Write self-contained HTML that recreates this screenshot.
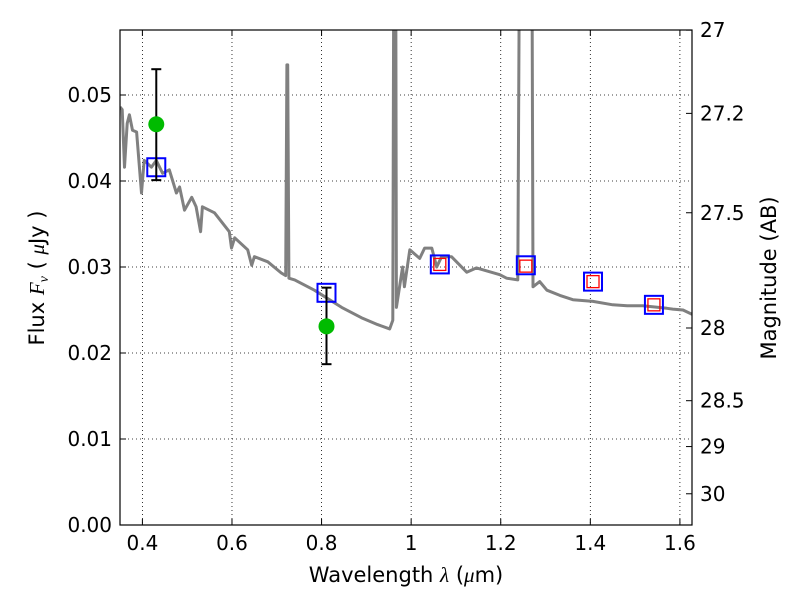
<!DOCTYPE html>
<html><head><meta charset="utf-8"><style>
body{margin:0;background:#fff;width:800px;height:600px;overflow:hidden}
text{font-family:"DejaVu Sans","Liberation Sans",sans-serif;fill:#000}
</style></head><body>
<svg id="chart" width="800" height="600" xmlns="http://www.w3.org/2000/svg"></svg>
<script>
const specWave=[0.35,0.355,0.36,0.366,0.371,0.378,0.387,0.398,0.404,0.42,0.431,0.445,0.46,0.476,0.483,0.494,0.51,0.52,0.53,0.534,0.561,0.594,0.599,0.606,0.635,0.644,0.65,0.68,0.71,0.72,0.7225,0.7245,0.727,0.74,0.784,0.845,0.889,0.925,0.952,0.959,0.962,0.965,0.967,0.981,0.985,0.997,1.019,1.03,1.046,1.057,1.068,1.09,1.124,1.146,1.198,1.213,1.238,1.243,1.246,1.269,1.272,1.287,1.303,1.332,1.361,1.406,1.45,1.482,1.517,1.571,1.584,1.607,1.627];
const specFlux=[0.0486,0.0483,0.0416,0.0467,0.0477,0.0459,0.0457,0.0386,0.0424,0.0416,0.0424,0.0409,0.0413,0.0386,0.0393,0.0366,0.0381,0.037,0.0341,0.037,0.0363,0.0341,0.0322,0.0334,0.032,0.0302,0.0312,0.0306,0.0293,0.029,0.0535,0.0535,0.0287,0.0285,0.0273,0.0253,0.0241,0.0233,0.0228,0.0238,0.08,0.08,0.0253,0.030,0.0277,0.032,0.031,0.0322,0.0322,0.030,0.0312,0.0312,0.0294,0.0299,0.0291,0.0287,0.0285,0.08,0.08,0.08,0.0277,0.0283,0.0273,0.0267,0.0262,0.026,0.0256,0.0255,0.0255,0.0252,0.0251,0.025,0.0245];
const obsWave=[0.431,0.811];
const obsFlux=[0.0466,0.0231];
const obsErrHi=[0.053,0.0276];
const obsErrLo=[0.0401,0.0187];
const bandWave=[0.431,0.811,1.064,1.256,1.406,1.542];
const bandFlux=[0.0416,0.027,0.0303,0.0302,0.0283,0.0256];
const modelWave=[1.064,1.256,1.406,1.542];
const modelFlux=[0.0303,0.0301,0.0283,0.0256];
const xTicks=[0.4,0.6,0.8,1.0,1.2,1.4,1.6];
const xTickLabels=["0.4","0.6","0.8","1","1.2","1.4","1.6"];
const yTicks=[0,0.01,0.02,0.03,0.04,0.05];
const yTickLabels=["0.00","0.01","0.02","0.03","0.04","0.05"];
const magTicks=[27,27.2,27.5,28,28.5,29,30];
const magTickLabels=["27","27.2","27.5","28","28.5","29","30"];

const L=120,R=692,T=30,B=525,X0=0.35,X1=1.627,Y0=0,Y1=(B-T)/8600;
const sx=v=>L+(v-X0)/(X1-X0)*(R-L);
const sy=v=>B-(v-Y0)/(Y1-Y0)*(B-T);
const magToFlux=m=>Math.pow(10,(23.9-m)/2.5);
const svg=document.getElementById('chart');
const NS='http://www.w3.org/2000/svg';
function mk(tag,attrs,parent){const e=document.createElementNS(NS,tag);for(const k in attrs)e.setAttribute(k,attrs[k]);(parent||svg).appendChild(e);return e;}

const defs=mk('defs',{});
const cp=mk('clipPath',{id:'clip'},defs);
mk('rect',{x:L,y:T,width:R-L,height:B-T},cp);

const grid=mk('g',{});


xTicks.forEach(v=>{mk('line',{x1:sx(v),x2:sx(v),y1:T,y2:B,stroke:'#000','stroke-width':0.8,'stroke-dasharray':'1,3'},grid);});
yTicks.forEach(v=>{mk('line',{x1:L,x2:R,y1:sy(v),y2:sy(v),stroke:'#000','stroke-width':0.8,'stroke-dasharray':'1,3'},grid);});

const plot=mk('g',{'clip-path':'url(#clip)'});
let d='';specWave.forEach((w,i)=>{d+=(i?'L':'M')+sx(w).toFixed(1)+','+sy(specFlux[i]).toFixed(1);});
const spec=mk('path',{d:d,fill:'none',stroke:'#808080','stroke-width':3,'stroke-linejoin':'round'},plot);



modelFlux.forEach((f,i)=>{
 const r=mk('rect',{x:sx(modelWave[i])-6,y:sy(f)-6,width:12,height:12,fill:'none',stroke:'#ff0000','stroke-width':1.3},plot);
 
 
});
bandFlux.forEach((f,i)=>{
 const r=mk('rect',{x:sx(bandWave[i])-9,y:sy(f)-9,width:18,height:18,fill:'none',stroke:'#0000ff','stroke-width':2},plot);
 
 
});
obsFlux.forEach((f,i)=>{
 const g=mk('g',{},plot);
 
 
 const x=sx(obsWave[i]);
 mk('line',{x1:x,x2:x,y1:sy(obsErrHi[i]),y2:sy(obsErrLo[i]),stroke:'#000','stroke-width':2},g);
 mk('line',{x1:x-5,x2:x+5,y1:sy(obsErrHi[i]),y2:sy(obsErrHi[i]),stroke:'#000','stroke-width':2},g);
 mk('line',{x1:x-5,x2:x+5,y1:sy(obsErrLo[i]),y2:sy(obsErrLo[i]),stroke:'#000','stroke-width':2},g);
 mk('circle',{cx:x,cy:sy(f),r:8,fill:'#00bb00'},g);
});

const frame=mk('rect',{x:L,y:T,width:R-L,height:B-T,fill:'none',stroke:'#000','stroke-width':1.2});



const xAxis=mk('g',{});


xTicks.forEach((v,i)=>{
 mk('line',{x1:sx(v),x2:sx(v),y1:B,y2:B-6,stroke:'#000'},xAxis);
 mk('line',{x1:sx(v),x2:sx(v),y1:T,y2:T+6,stroke:'#000'},xAxis);
 const t=mk('text',{x:sx(v),y:B+25,'text-anchor':'middle','font-size':20},xAxis);t.textContent=xTickLabels[i];
});
const yAxis=mk('g',{});


yTicks.forEach((v,i)=>{
 mk('line',{x1:L,x2:L+6,y1:sy(v),y2:sy(v),stroke:'#000'},yAxis);
 const t=mk('text',{x:L-8,y:sy(v)+7,'text-anchor':'end','font-size':20},yAxis);t.textContent=yTickLabels[i];
});
const mAxis=mk('g',{});


magTicks.forEach((m,i)=>{
 const y=sy(magToFlux(m));
 mk('line',{x1:R,x2:R-6,y1:y,y2:y,stroke:'#000'},mAxis);
 const t=mk('text',{x:R+8,y:y+7,'font-size':20},mAxis);t.textContent=magTickLabels[i];
});
</script>
<svg style="position:absolute;left:0;top:0" width="800" height="600" xmlns="http://www.w3.org/2000/svg">
<text x="406" y="582" text-anchor="middle" font-size="21">Wavelength  <tspan font-style="italic" font-family="Liberation Serif,serif">λ</tspan> (<tspan font-style="italic" font-family="Liberation Serif,serif">μ</tspan>m)</text>
<text transform="translate(44,278) rotate(-90)" text-anchor="middle" font-size="21">Flux  <tspan font-style="italic" font-family="Liberation Serif,serif">F</tspan><tspan font-style="italic" font-size="14" font-family="Liberation Serif,serif" dy="4">ν</tspan><tspan dy="-4">  (  </tspan><tspan font-style="italic" font-family="Liberation Serif,serif">μ</tspan>Jy )</text>
<text transform="translate(776,278) rotate(-90)" text-anchor="middle" font-size="21">Magnitude (AB)</text>
</svg>
</body></html>
